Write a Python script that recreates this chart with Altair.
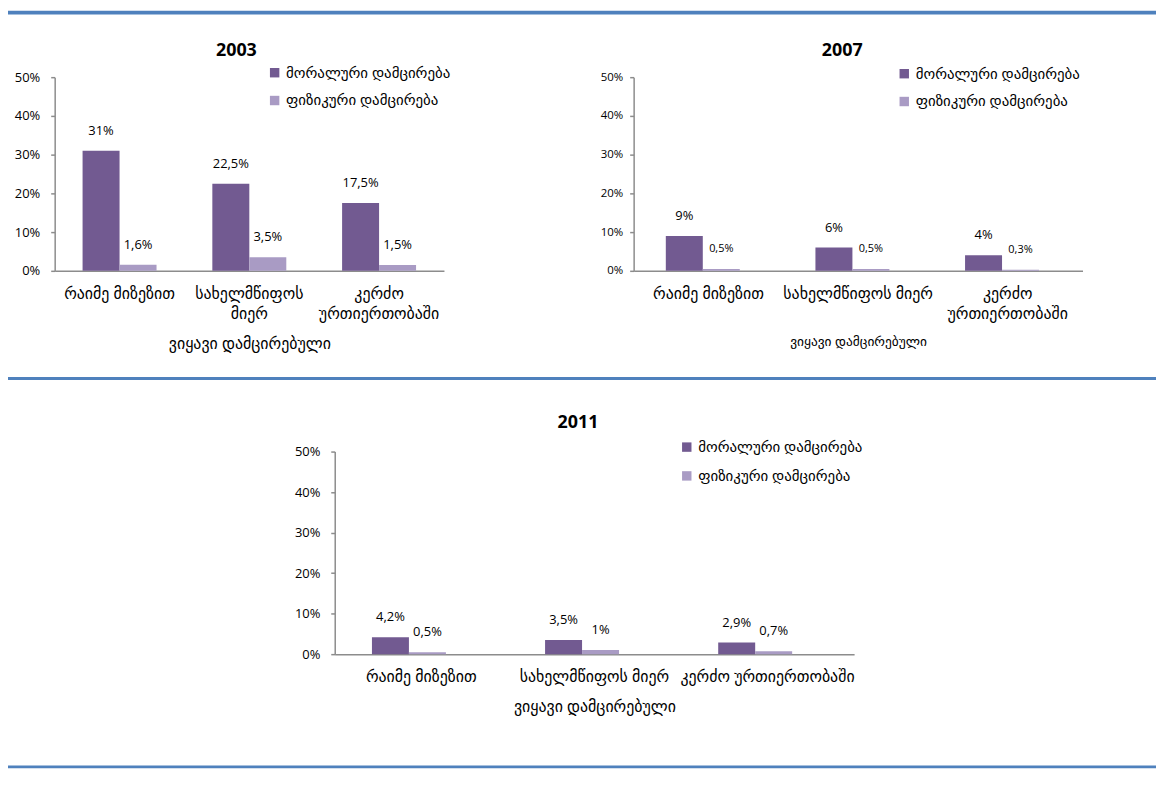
import altair as alt
import pandas as pd

# ---------------- data ----------------
years = ["2003", "2007", "2011"]
categories = ["რაიმე მიზეზით", "სახელმწიფოს მიერ", "კერძო ურთიერთობაში"]
series = ["მორალური დამცირება", "ფიზიკური დამცირება"]
moral = {"2003": [31, 22.5, 17.5], "2007": [9, 6, 4], "2011": [4.2, 3.5, 2.9]}
physical = {"2003": [1.6, 3.5, 1.5], "2007": [0.5, 0.5, 0.3], "2011": [0.5, 1, 0.7]}
# category labels with the line breaks used in each panel ("|" = new line)
wrapped = {
    "2003": ["რაიმე მიზეზით", "სახელმწიფოს|მიერ", "კერძო|ურთიერთობაში"],
    "2007": ["რაიმე მიზეზით", "სახელმწიფოს მიერ", "კერძო|ურთიერთობაში"],
    "2011": ["რაიმე მიზეზით", "სახელმწიფოს მიერ", "კერძო ურთიერთობაში"],
}
y_ticks = [0, 10, 20, 30, 40, 50]
x_title = "ვიყავი დამცირებული"

# ---------------- style / layout ----------------
COLORS = ["#725A91", "#A99BC4"]
AX = "#8C8C8C"
BLUE = "#4F81BD"
FONT = "Open Sans, DejaVu Sans, sans-serif"

panel = {
    "2003": dict(w=392, h=195, tx=183, ty=-26, lx=214, ly=-12, row=12, yfs=13, ypad=11,
                 xtfs=16, xty=73, vfs=(13, 13)),
    "2007": dict(w=452, h=195, tx=210, ty=-26, lx=265, ly=-11, row=12, yfs=11.5, ypad=7,
                 xtfs=13.5, xty=71, vfs=(13, 11)),
    "2011": dict(w=523, h=204, tx=245, ty=-29, lx=347, ly=-12, row=13, yfs=13, ypad=11,
                 xtfs=16, xty=53, vfs=(13, 13)),
}


def make_panel(year):
    p = panel[year]
    rows = []
    for i, c in enumerate(wrapped[year]):
        for s, vals in ((series[0], moral[year]), (series[1], physical[year])):
            v = vals[i]
            rows.append({"cat": c, "series": s, "value": v,
                         "label": f"{v:g}".replace(".", ",") + "%"})
    df = pd.DataFrame(rows)

    base = alt.Chart(df).encode(
        x=alt.X("cat:N", sort=wrapped[year],
                scale=alt.Scale(paddingInner=0.43, paddingOuter=0.215),
                axis=alt.Axis(title=x_title, labelExpr="split(datum.label, '|')",
                              labelAngle=0, labelLineHeight=20, labelPadding=15,
                              labelBaseline="top",
                              ticks=False, labelFontSize=16, titleFontSize=p["xtfs"],
                              titleFontWeight="normal", titleY=p["xty"],
                              titleBaseline="middle", domainColor=AX, domainWidth=1.5,
                              labelColor="#000000", titleColor="#000000")),
        xOffset=alt.XOffset("series:N", sort=series),
        y=alt.Y("value:Q", scale=alt.Scale(domain=[0, 50], nice=False),
                axis=alt.Axis(values=y_ticks, labelExpr="datum.value + '%'", title=None,
                              grid=False, tickSize=4, tickColor=AX, tickWidth=1.5,
                              domainColor=AX, domainWidth=1.5,
                              labelFontSize=p["yfs"], labelPadding=p["ypad"],
                              labelColor="#000000")),
    )
    bars = base.mark_bar().encode(
        color=alt.Color("series:N", sort=series,
                        scale=alt.Scale(domain=series, range=COLORS),
                        legend=alt.Legend(title=None, orient="none", legendX=p["lx"],
                                          legendY=p["ly"], symbolType="square",
                                          symbolSize=90, symbolStrokeWidth=0,
                                          labelFontSize=15, rowPadding=p["row"],
                                          labelOffset=4, padding=0,
                                          labelColor="#000000", labelLimit=400))
    )
    labels = base.mark_text(baseline="middle", dy=-20, color="#000000").encode(
        text="label:N",
        size=alt.when(alt.datum.series == series[1])
        .then(alt.value(p["vfs"][1]))
        .otherwise(alt.value(p["vfs"][0])),
    )
    title = alt.Chart(pd.DataFrame({"t": [year]})).mark_text(
        fontSize=18, fontWeight="bold", color="#000000", baseline="middle"
    ).encode(text="t:N", x=alt.value(p["tx"]), y=alt.value(p["ty"]))
    return alt.layer(bars, labels, title).properties(width=p["w"], height=p["h"])


def separator(h, y0, y1):
    return alt.Chart(pd.DataFrame({"k": [0]})).mark_rect(color=BLUE).encode(
        x=alt.value(-47), x2=alt.value(1109), y=alt.value(y0), y2=alt.value(y1)
    ).properties(width=1, height=h)


spacer = alt.Chart(pd.DataFrame({"k": [0]})).mark_rect(opacity=0).encode(
    x=alt.value(0), x2=alt.value(1), y=alt.value(0), y2=alt.value(1)
).properties(width=282, height=204)

row1 = alt.hconcat(make_panel("2003"), make_panel("2007"), spacing=191,
                   bounds="flush").resolve_scale(color="independent")
row3 = alt.hconcat(spacer, make_panel("2011"), spacing=0,
                   bounds="flush").resolve_scale(color="independent")

# nested concat rows take no height in the flush layout, so the separator
# views carry the vertical spacing
chart = alt.vconcat(
    separator(67, 0, 4), row1, separator(377, 302, 305), row3, separator(320, 316, 319),
    spacing=0, bounds="flush",
).resolve_scale(color="independent").properties(padding=0).configure(
    font=FONT
).configure_view(strokeWidth=0)

chart.save("out.html", embed_options={"renderer": "svg", "actions": False})
